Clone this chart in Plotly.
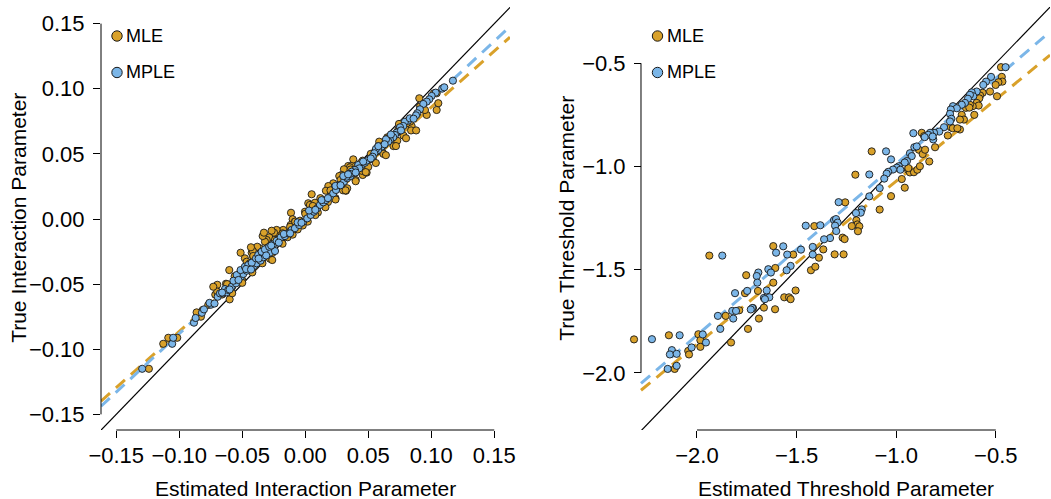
import plotly.graph_objects as go

# ---------------- data: interaction parameters (estimated vs true) ----------------
interaction_mle_est = [
    -0.1241, -0.1127, -0.1087, -0.1016, -0.0841, -0.0814, -0.0828, -0.0698, -0.0603, -0.0513,
    -0.0629, -0.0606, -0.0714, -0.0600, -0.0542, -0.0518, -0.0413, -0.0425, -0.0280, -0.0262,
    -0.0698, -0.0730, -0.0770, -0.0862,
    0.0341, 0.0368, 0.0323, 0.0333, 0.0244, 0.0222, 0.0183, 0.0164, 0.0051, 0.0024,
    0.0037, 0.0063, 0.0077, -0.0002, -0.0113, -0.0100, -0.0082, -0.0063, -0.0042, -0.0116,
    -0.0095, -0.0187, -0.0175, -0.0206, -0.0227, -0.0248, -0.0267, -0.0286, -0.0306, -0.0320,
    -0.0338, -0.0328, -0.0360, -0.0381, -0.0417, -0.0413, -0.0431, -0.0544, -0.0479, -0.0465,
    0.1021, 0.1043, 0.1056, 0.1043, 0.0964, 0.0905, 0.0910, 0.0937, 0.0950, 0.0844,
    0.0831, 0.0805, 0.0783, 0.0744, 0.0738, 0.0757, 0.0698, 0.0730, 0.0667, 0.0651,
    0.0587, 0.0587, 0.0598, 0.0614, 0.0567, 0.0535, 0.0500, 0.0456, 0.0381, 0.0355,
    0.0394, 0.0434, 0.0456, 0.0487, 0.0307, 0.0289, 0.0270,
    -0.0400, -0.0320, -0.0220, -0.0060, 0.0100, 0.0180, 0.0300, 0.0400, 0.0500, 0.0620,
    0.0700, 0.0780, -0.0140, 0.0020, -0.0500, -0.0580, -0.0660, 0.0240, 0.0450, 0.0840,
    -0.0620, -0.0560, -0.0480, -0.0440, -0.0360, -0.0300, -0.0240, -0.0180, -0.0120, -0.0080,
    0.0000, 0.0060, 0.0120, 0.0200, 0.0280, 0.0360, 0.0440, 0.0520, 0.0580, 0.0660,
    -0.0580, -0.0500, -0.0420, -0.0340, -0.0260, -0.0180, -0.0100, -0.0020, 0.0080, 0.0160,
    0.0240, 0.0320, 0.0400, 0.0480, 0.0560, 0.0640, 0.0720, 0.0800, 0.0880,
]
interaction_mle_true = [
    -0.1150, -0.0958, -0.0912, -0.0912, -0.0720, -0.0699, -0.0750, -0.0505, -0.0392, -0.0259,
    -0.0497, -0.0517, -0.0581, -0.0617, -0.0435, -0.0417, -0.0290, -0.0259, -0.0305, -0.0315,
    -0.0558, -0.0520, -0.0660, -0.0717,
    0.0407, 0.0407, 0.0217, 0.0236, 0.0228, 0.0274, 0.0253, 0.0217, 0.0190, 0.0121,
    0.0108, 0.0082, 0.0125, 0.0056, 0.0048, -0.0002, -0.0021, -0.0033, -0.0013, -0.0046,
    -0.0054, -0.0098, -0.0084, -0.0123, -0.0084, -0.0105, -0.0090, -0.0141, -0.0161, -0.0174,
    -0.0131, -0.0105, -0.0225, -0.0213, -0.0243, -0.0284, -0.0217, -0.0455, -0.0302, -0.0328,
    0.0965, 0.0965, 0.0889, 0.0837, 0.0799, 0.0927, 0.0862, 0.0842, 0.0837, 0.0714,
    0.0747, 0.0735, 0.0740, 0.0730, 0.0684, 0.0689, 0.0601, 0.0601, 0.0607, 0.0627,
    0.0594, 0.0555, 0.0530, 0.0512, 0.0517, 0.0466, 0.0453, 0.0448, 0.0458, 0.0397,
    0.0363, 0.0389, 0.0338, 0.0356, 0.0382, 0.0338, 0.0330,
    -0.0360, -0.0260, -0.0180, -0.0080, 0.0050, 0.0130, 0.0220, 0.0300, 0.0400, 0.0500,
    0.0560, 0.0640, -0.0140, -0.0020, -0.0470, -0.0520, -0.0580, 0.0160, 0.0370, 0.0680,
    -0.0500, -0.0440, -0.0380, -0.0340, -0.0270, -0.0220, -0.0160, -0.0110, -0.0060, -0.0020,
    0.0040, 0.0100, 0.0160, 0.0220, 0.0300, 0.0380, 0.0430, 0.0500, 0.0560, 0.0620,
    -0.0570, -0.0490, -0.0410, -0.0340, -0.0260, -0.0190, -0.0120, -0.0050, 0.0030, 0.0090,
    0.0150, 0.0220, 0.0290, 0.0360, 0.0430, 0.0490, 0.0560, 0.0620, 0.0680,
]
interaction_mple_est = [
    -0.1294, -0.1056, -0.1048, -0.0883, -0.0870, -0.0820, -0.0804, -0.0748, -0.0695,
    -0.0677, -0.0651, -0.0624, -0.0637, -0.0611, -0.0584, -0.0550, -0.0540, -0.0510, -0.0492,
    -0.0465, -0.0439, -0.0407, -0.0386, -0.0354, -0.0333, -0.0306, -0.0280, -0.0240,
    -0.0544, -0.0513, -0.0479, -0.0452, -0.0425, -0.0391, -0.0373, -0.0346, -0.0320, -0.0286,
    -0.0254, -0.0227, -0.0195, -0.0161, -0.0135, -0.0108, -0.0082, -0.0048, -0.0016, 0.0016,
    0.0043, 0.0069, 0.0095, 0.0117, 0.0143, 0.0164, 0.0196, 0.0222, 0.0244, 0.0275,
    0.0307, 0.0333, 0.0360, 0.0387, 0.0413, 0.0448, 0.0474,
    0.1172, 0.1087, 0.1103, 0.1035, 0.1003, 0.0984, 0.0964, 0.0937, 0.0910, 0.0889,
    0.0879, 0.0817, 0.0791, 0.0778, 0.0752, 0.0738, 0.0725, 0.0712, 0.0698, 0.0672,
    0.0659, 0.0641, 0.0625, 0.0606, 0.0579, 0.0561, 0.0548, 0.0535, 0.0514, 0.0487,
    0.0421, 0.0429, 0.0394, 0.0368, 0.0355, 0.0329, 0.0302,
    -0.0760, -0.0720, -0.0660, -0.0600, -0.0570, -0.0530, -0.0470, -0.0430, -0.0370, -0.0310,
    -0.0270, -0.0210, -0.0170, -0.0120, -0.0060, -0.0030, 0.0030, 0.0080, 0.0130, 0.0180,
    0.0240, 0.0280, 0.0340, 0.0400, 0.0460, 0.0520, 0.0580, 0.0630, 0.0680, 0.0760,
    0.0830, 0.0860,
]
interaction_mple_true = [
    -0.1150, -0.0958, -0.0912, -0.0796, -0.0760, -0.0720, -0.0694, -0.0658, -0.0597,
    -0.0571, -0.0571, -0.0563, -0.0538, -0.0545, -0.0520, -0.0494, -0.0463, -0.0443, -0.0422,
    -0.0397, -0.0379, -0.0361, -0.0340, -0.0320, -0.0294, -0.0276, -0.0259, -0.0246,
    -0.0430, -0.0392, -0.0366, -0.0353, -0.0336, -0.0302, -0.0276, -0.0251, -0.0233, -0.0213,
    -0.0194, -0.0167, -0.0141, -0.0131, -0.0110, -0.0084, -0.0071, -0.0046, -0.0021, 0.0005,
    0.0031, 0.0056, 0.0082, 0.0108, 0.0128, 0.0146, 0.0171, 0.0197, 0.0223, 0.0261,
    0.0286, 0.0313, 0.0330, 0.0356, 0.0382, 0.0415, 0.0432,
    0.1062, 0.1001, 0.1011, 0.0970, 0.0945, 0.0919, 0.0901, 0.0883, 0.0842, 0.0812,
    0.0796, 0.0755, 0.0747, 0.0714, 0.0704, 0.0670, 0.0663, 0.0645, 0.0627, 0.0607,
    0.0594, 0.0612, 0.0568, 0.0555, 0.0530, 0.0538, 0.0505, 0.0478, 0.0459, 0.0448,
    0.0415, 0.0389, 0.0376, 0.0363, 0.0346, 0.0325, 0.0330,
    -0.0644, -0.0649, -0.0565, -0.0541, -0.0474, -0.0468, -0.0384, -0.0388, -0.0304, -0.0280,
    -0.0204, -0.0181, -0.0115, -0.0110, -0.0026, -0.0029, 0.0065, 0.0070, 0.0145, 0.0160,
    0.0254, 0.0259, 0.0343, 0.0357, 0.0441, 0.0465, 0.0559, 0.0574, 0.0649, 0.0680,
    0.0773, 0.0770,
]

# ---------------- data: threshold parameters (estimated vs true) ----------------
threshold_mle_est = [
    -1.938, -1.617, -1.517, -1.607, -1.428, -1.753, -1.617, -1.694, -1.759, -1.505,
    -1.562, -1.538, -1.530, -1.719, -1.664, -1.608, -1.788, -1.856, -1.689, -1.744,
    -1.993, -2.141, -1.983, -1.829, -1.983, -2.316, -2.112, -2.044, -2.040, -1.406,
    -1.123, -1.205, -1.256, -1.083, -1.200, -1.195, -1.223, -1.185, -1.192, -1.411,
    -1.269, -1.259, -1.366, -1.309, -1.264, -1.388, -0.941, -0.931, -0.911, -0.894,
    -0.939, -0.972, -0.957, -1.026, -0.886, -0.474, -0.470, -0.467, -0.487, -0.501,
    -0.529, -0.494, -0.566, -0.579, -0.583, -0.596, -0.586, -0.616, -0.630, -0.650,
    -0.633, -0.608, -0.671, -0.660, -0.680, -0.726, -0.716, -0.680, -0.693, -0.741,
    -0.817, -0.872, -0.860, -0.805, -0.867, -0.855, -0.834, -0.881,
]
threshold_mle_true = [
    -1.432, -1.386, -1.427, -1.492, -1.503, -1.527, -1.563, -1.603, -1.614, -1.601,
    -1.634, -1.634, -1.643, -1.686, -1.684, -1.692, -1.697, -1.724, -1.737, -1.787,
    -1.813, -1.818, -1.842, -1.853, -1.874, -1.838, -1.981, -1.894, -1.911, -1.486,
    -0.927, -1.040, -1.174, -1.209, -1.261, -1.281, -1.289, -1.290, -1.314, -1.289,
    -1.345, -1.352, -1.402, -1.426, -1.426, -1.442, -1.016, -1.029, -1.028, -1.016,
    -1.008, -1.061, -1.103, -1.144, -0.919, -0.519, -0.566, -0.589, -0.592, -0.605,
    -0.637, -0.660, -0.643, -0.656, -0.670, -0.692, -0.705, -0.708, -0.701, -0.716,
    -0.715, -0.750, -0.750, -0.773, -0.773, -0.810, -0.815, -0.821, -0.815, -0.850,
    -0.837, -0.837, -0.853, -0.907, -0.940, -0.919, -0.976, -0.999,
]
threshold_mple_est = [
    -1.454, -1.381, -1.873, -1.567, -1.603, -1.547, -1.478, -1.419, -1.419, -1.530,
    -1.550, -1.642, -1.629, -1.692, -1.700, -1.697, -1.748, -1.809, -1.650, -1.664,
    -1.637, -1.659, -1.722, -1.730, -1.823, -1.804, -1.818, -1.895, -1.883, -1.971,
    -1.955, -2.087, -2.226, -2.027, -2.126, -2.136, -2.102, -2.147, -2.102, -1.135,
    -1.083, -1.135, -1.289, -1.173, -1.178, -1.202, -1.312, -1.302, -1.294, -1.307,
    -1.301, -1.332, -1.362, -0.914, -0.909, -0.897, -1.051, -1.026, -0.931, -0.922,
    -0.946, -0.957, -0.987, -0.997, -0.979, -1.016, -1.040, -1.048, -1.060, -0.451,
    -0.524, -0.549, -0.563, -0.596, -0.621, -0.613, -0.630, -0.640, -0.655, -0.671,
    -0.715, -0.696, -0.726, -0.730, -0.723, -0.730, -0.760, -0.784, -0.810, -0.830,
    -0.839, -0.857, -0.814, -0.817,
]
threshold_mple_true = [
    -1.287, -1.285, -1.432, -1.387, -1.418, -1.427, -1.403, -1.390, -1.427, -1.482,
    -1.503, -1.498, -1.514, -1.514, -1.531, -1.563, -1.603, -1.614, -1.601, -1.637,
    -1.634, -1.643, -1.686, -1.693, -1.700, -1.700, -1.737, -1.724, -1.787, -1.814,
    -1.853, -1.818, -1.837, -1.877, -1.890, -1.911, -1.908, -1.981, -1.966, -1.039,
    -1.105, -1.145, -1.173, -1.208, -1.224, -1.226, -1.260, -1.255, -1.272, -1.287,
    -1.313, -1.347, -1.353, -0.839, -0.907, -0.903, -0.927, -0.966, -0.936, -0.950,
    -0.974, -0.981, -0.999, -1.006, -1.016, -1.015, -1.026, -1.035, -1.059, -0.519,
    -0.566, -0.589, -0.605, -0.637, -0.641, -0.660, -0.653, -0.672, -0.692, -0.701,
    -0.708, -0.718, -0.724, -0.745, -0.769, -0.782, -0.810, -0.831, -0.837, -0.837,
    -0.847, -0.858, -0.869, -0.855,
]

# fitted regression lines (true = intercept + slope * estimated)
interaction_fit = {"MLE": (-0.0003, 0.861), "MPLE": (0.0018, 0.898)}
threshold_fit = {"MLE": (-0.280, 0.791), "MPLE": (-0.158, 0.830)}

interaction_ticks = [-0.15, -0.10, -0.05, 0.00, 0.05, 0.10, 0.15]
threshold_ticks = [-2.0, -1.5, -1.0, -0.5]

# ---------------- styling ----------------
W, H = 1051, 499
MLE_COLOR = "#D9A12A"
MPLE_COLOR = "#7BB6E8"
FONT = "Liberation Sans, Arial, Helvetica, sans-serif"

# plotting regions (the lines are clipped to these)
left_xrange = [-0.1621, 0.1625]
left_yrange = [-0.1620, 0.1630]
right_xrange = [-2.281, -0.228]
right_yrange = [-2.277, -0.226]

# the right x axis is widened a little to the left so that an estimate falling
# just outside the plotting region is still shown, as in base-R graphics
X2_PX_PER_UNIT = (1050 - 641) / (right_xrange[1] - right_xrange[0])
right_view_min = -2.34
right_dom_left = 641 - (right_xrange[0] - right_view_min) * X2_PX_PER_UNIT


def px_x(p):
    return p / W


def px_y(p):
    return 1 - p / H


fig = go.Figure()


def add_panel(xa, ya, xr, mle_x, mle_y, mple_x, mple_y, fit):
    # identity line
    fig.add_trace(go.Scatter(x=xr, y=xr, mode="lines", xaxis=xa, yaxis=ya,
                             line=dict(color="black", width=1.2), showlegend=False,
                             hoverinfo="skip"))
    # regression lines
    for name, color in (("MLE", MLE_COLOR), ("MPLE", MPLE_COLOR)):
        a, b = fit[name]
        fig.add_trace(go.Scatter(x=xr, y=[a + b * v for v in xr], mode="lines",
                                 xaxis=xa, yaxis=ya, showlegend=False, hoverinfo="skip",
                                 line=dict(color=color, width=3, dash="12px,8px")))
    # points
    for name, xs, ys, color in (("MLE", mle_x, mle_y, MLE_COLOR),
                                ("MPLE", mple_x, mple_y, MPLE_COLOR)):
        fig.add_trace(go.Scatter(x=xs, y=ys, mode="markers", name=name, xaxis=xa, yaxis=ya,
                                 cliponaxis=False, showlegend=False,
                                 marker=dict(size=7.2, color=color,
                                             line=dict(color="#1a1a1a", width=0.9))))


add_panel("x", "y", left_xrange, interaction_mle_est, interaction_mle_true,
          interaction_mple_est, interaction_mple_true, interaction_fit)
add_panel("x2", "y2", right_xrange, threshold_mle_est, threshold_mle_true,
          threshold_mple_est, threshold_mple_true, threshold_fit)

ydom = [px_y(430), px_y(6.7)]
tickfont = dict(family=FONT, size=22, color="black")
axis_common = dict(showgrid=False, zeroline=False, showline=False, ticks="outside",
                   ticklen=7, tickwidth=1, tickcolor="black", tickfont=tickfont,
                   automargin=False)

fig.update_layout(
    template="none",
    width=W, height=H, margin=dict(l=0, r=0, t=0, b=0, pad=0, autoexpand=False),
    paper_bgcolor="white", plot_bgcolor="white", showlegend=False,
    font=dict(family=FONT, color="black"),
    xaxis=dict(domain=[px_x(101), px_x(510)], range=left_xrange, anchor="y",
               tickvals=interaction_ticks, tickformat=".2f", ticklabelstandoff=-1, **axis_common),
    yaxis=dict(domain=ydom, range=left_yrange, anchor="x",
               tickvals=interaction_ticks, tickformat=".2f", ticklabelstandoff=4, **axis_common),
    xaxis2=dict(domain=[px_x(right_dom_left), px_x(1050)], range=[right_view_min, right_xrange[1]],
                anchor="y2", tickvals=threshold_ticks, tickformat=".1f", ticklabelstandoff=-1,
                **axis_common),
    yaxis2=dict(domain=ydom, range=right_yrange, anchor="free", position=px_x(641),
                tickvals=threshold_ticks, tickformat=".1f", ticklabelstandoff=4, **axis_common),
)

# axis lines spanning only the labelled tick range
shapes = [
    dict(type="line", xref="x domain", yref="y", x0=0, x1=0,
         y0=interaction_ticks[0], y1=interaction_ticks[-1], line=dict(color="black", width=1)),
    dict(type="line", xref="x", yref="y domain", y0=0, y1=0,
         x0=interaction_ticks[0], x1=interaction_ticks[-1], line=dict(color="black", width=1)),
    dict(type="line", xref="x2", yref="y2", x0=right_xrange[0], x1=right_xrange[0],
         y0=threshold_ticks[0], y1=threshold_ticks[-1], line=dict(color="black", width=1)),
    dict(type="line", xref="x2", yref="y2 domain", y0=0, y1=0,
         x0=threshold_ticks[0], x1=threshold_ticks[-1], line=dict(color="black", width=1)),
]

# legend markers and labels
annotations = []
for x_c, x_t in ((117, 124), (657.5, 664.5)):
    for y_c, label, color in ((36, "MLE", MLE_COLOR), (72.5, "MPLE", MPLE_COLOR)):
        shapes.append(dict(type="circle", xref="paper", yref="paper",
                           xsizemode="pixel", ysizemode="pixel",
                           xanchor=px_x(x_c), yanchor=px_y(y_c),
                           x0=-5.2, x1=5.2, y0=-5.2, y1=5.2,
                           fillcolor=color, line=dict(color="#1a1a1a", width=1)))
        annotations.append(dict(text=label, xref="paper", yref="paper",
                                x=px_x(x_t), y=px_y(y_c), xanchor="left", yanchor="middle",
                                showarrow=False, font=dict(family=FONT, size=18, color="black")))

# axis titles
title_font = dict(family=FONT, size=21, color="black")
annotations.append(dict(text="Estimated Interaction Parameter", xref="x domain", yref="paper",
                        x=0.5, y=px_y(488), xanchor="center", yanchor="middle",
                        showarrow=False, font=title_font))
annotations.append(dict(text="Estimated Threshold Parameter", xref="paper", yref="paper",
                        x=px_x((641 + 1050) / 2), y=px_y(488), xanchor="center",
                        yanchor="middle", showarrow=False, font=title_font))
for ya, xpos, text in (("y", 18.5, "True Interaction Parameter"),
                       ("y2", 566.5, "True Threshold Parameter")):
    annotations.append(dict(text=text, xref="paper", yref=f"{ya} domain", x=px_x(xpos), y=0.5,
                            xanchor="center", yanchor="middle", textangle=-90,
                            showarrow=False, font=title_font))

fig.update_layout(shapes=shapes, annotations=annotations)
fig.write_html("out.html")
